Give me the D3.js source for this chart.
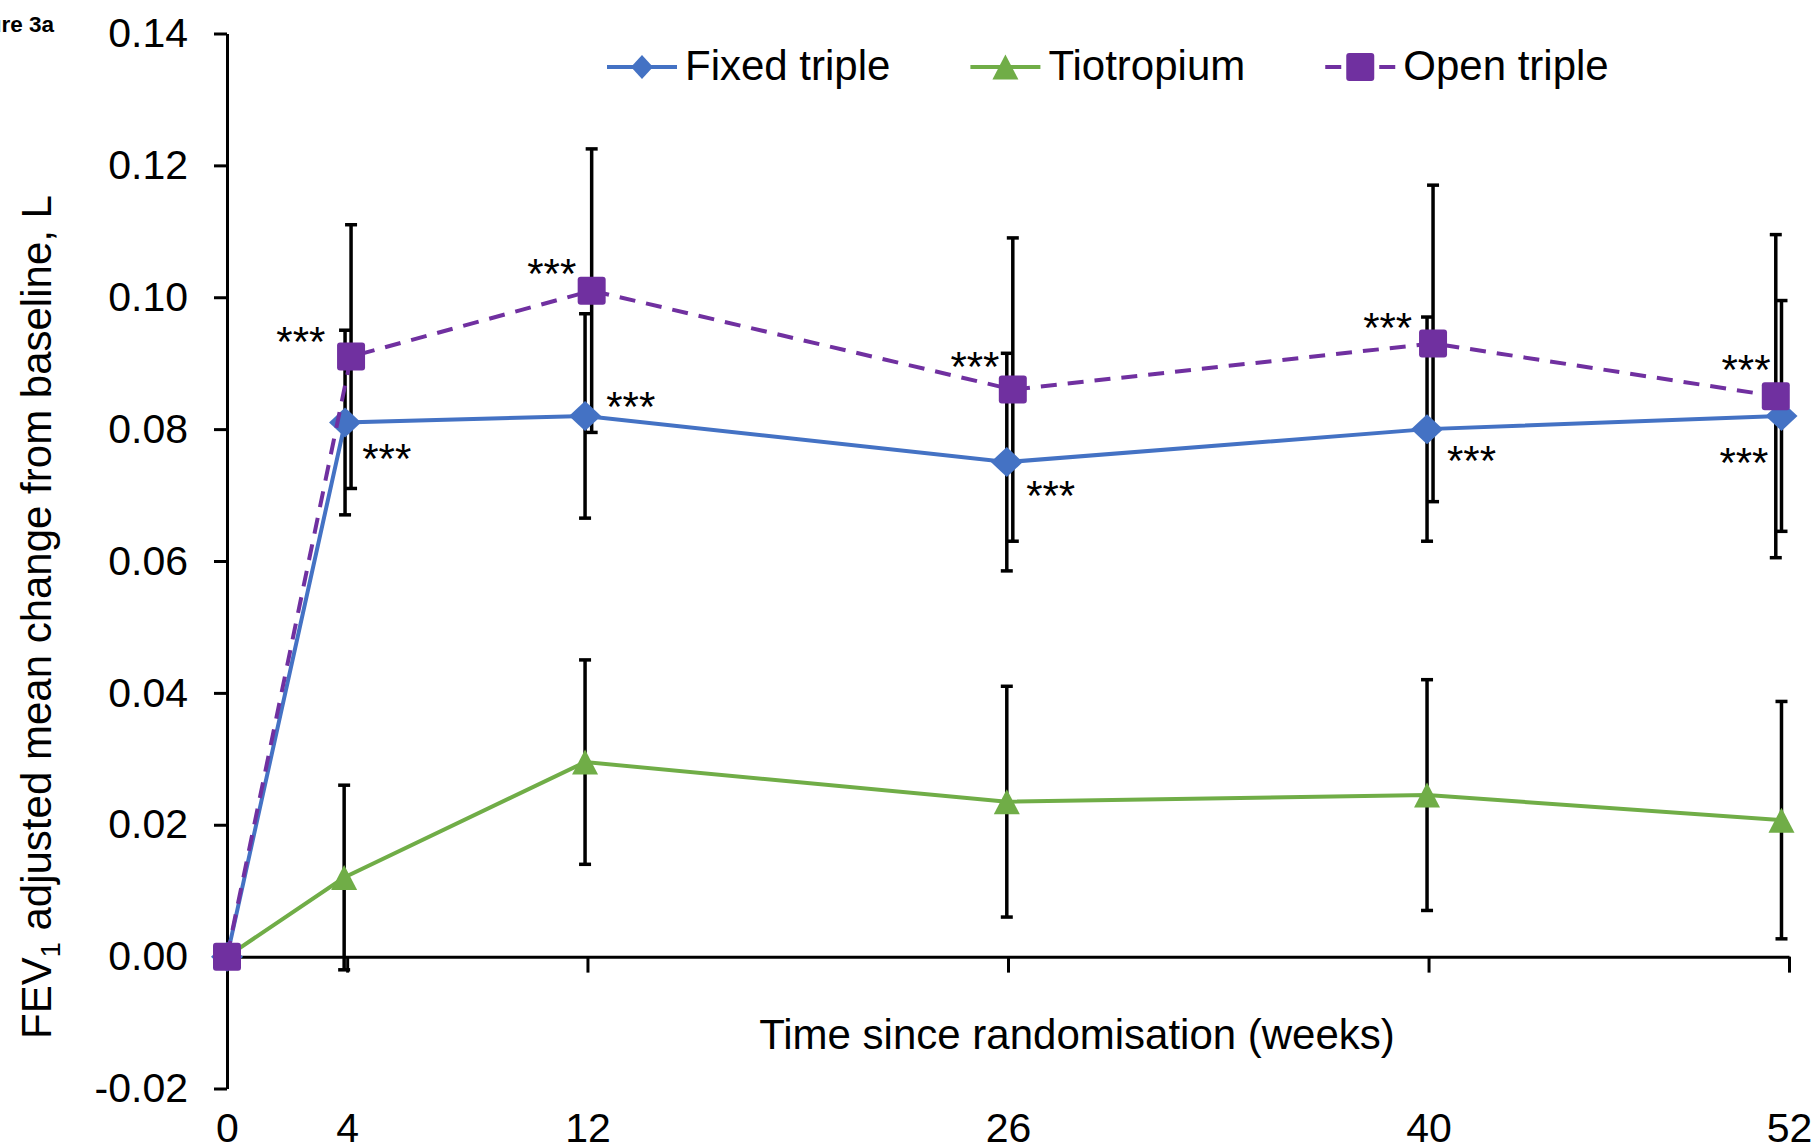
<!DOCTYPE html>
<html>
<head>
<meta charset="utf-8">
<script src="https://cdn.jsdelivr.net/npm/d3@7"></script>
<style>
  body { margin: 0; background: #fff; }
  svg { display: block; font-family: "Liberation Sans", Arial, sans-serif; }
</style>
</head>
<body>
<div id="chart"></div>
<script>
// tick labels
var weeks = [0, 4, 12, 26, 40, 52];
var yTicks = [-0.02, 0, 0.02, 0.04, 0.06, 0.08, 0.10, 0.12, 0.14];

// Fixed triple (week as plotted, mean change in L, error bar half width)
var fixedWeek = [0, 3.93, 11.92, 25.96, 39.95, 51.75];
var fixedMean = [0, 0.081, 0.082, 0.075, 0.080, 0.082];
var fixedErr  = [0, 0.014, 0.0155, 0.0165, 0.017, 0.0175];

// Tiotropium
var tioWeek = [0, 3.9, 11.92, 25.96, 39.95, 51.75];
var tioMean = [0, 0.012, 0.0295, 0.0235, 0.0245, 0.0207];
var tioErr  = [0, 0.014, 0.0155, 0.0175, 0.0175, 0.018];

// Open triple
var openWeek = [0, 4.13, 12.14, 26.16, 40.15, 51.56];
var openMean = [0, 0.091, 0.101, 0.086, 0.093, 0.085];
var openErr  = [0, 0.020, 0.0215, 0.023, 0.024, 0.0245];

// "***" labels, placed in week / litre units
var fixedSigWeek  = [5.32, 13.44, 27.42, 41.43, 50.5];
var fixedSigValue = [0.0770, 0.0849, 0.0714, 0.0767, 0.0763];
var openSigWeek   = [2.46, 10.81, 24.9, 38.64, 50.57];
var openSigValue  = [0.0947, 0.1050, 0.0909, 0.0968, 0.0905];

var svg, x, y, width, height;

function setup() {
  width = 1816;
  height = 1145;

  x = d3.scaleLinear().domain([0, 52]).range([227, 1789]);
  y = d3.scaleLinear().domain([-0.02, 0.14]).range([1088.5, 33.5]);

  svg = d3.select("#chart").append("svg")
    .attr("width", width)
    .attr("height", height);
}

// marker shapes, centred on 0,0
function marker(g, type, big) {
  if (type === "diamond") {
    var w = big ? 16 : 11, h = big ? 15 : 12;
    g.append("path").attr("d", "M0," + (-h) + "L" + w + ",0L0," + h + "L" + (-w) + ",0Z");
  } else if (type === "triangle") {
    g.append("path").attr("d", "M0,-12.5L13,12.5L-13,12.5Z");
  } else {
    g.append("rect").attr("x", -14).attr("y", -14).attr("width", 28).attr("height", 28).attr("rx", 3);
  }
}

function draw() {
  var series = [
    {name: "Fixed triple", week: fixedWeek, mean: fixedMean, err: fixedErr, color: "#4472C4", dash: null, shape: "diamond"},
    {name: "Tiotropium", week: tioWeek, mean: tioMean, err: tioErr, color: "#70AD47", dash: null, shape: "triangle"},
    {name: "Open triple", week: openWeek, mean: openMean, err: openErr, color: "#7030A0", dash: "16,11", shape: "square"}
  ];

  // "Figure 3a" label, cut off at the left edge
  svg.append("text")
    .attr("x", 54).attr("y", 32)
    .attr("text-anchor", "end")
    .style("font-size", "22.5px").style("font-weight", "bold")
    .text("Figure 3a");

  // y axis
  var yAxis = svg.append("g")
    .attr("transform", "translate(" + x(0) + ",0)")
    .call(d3.axisLeft(y).tickValues(yTicks)
      .tickFormat(function(d) { return d.toFixed(2); })
      .tickSize(13).tickPadding(26).tickSizeOuter(0));
  yAxis.attr("font-family", null).attr("font-size", null);
  yAxis.selectAll("path, line").attr("stroke", "#000").attr("stroke-width", 3);
  yAxis.selectAll("text").style("font-size", "41px").attr("fill", "#000");

  // x axis line at zero with ticks
  var xAxis = svg.append("g")
    .attr("transform", "translate(0," + y(0) + ")")
    .call(d3.axisBottom(x).tickValues(weeks).tickFormat("").tickSize(16).tickSizeOuter(0));
  xAxis.selectAll("path, line").attr("stroke", "#000").attr("stroke-width", 3);

  // x tick labels sit below the plot
  var xLabels = svg.append("g")
    .attr("transform", "translate(0," + y(-0.02) + ")")
    .call(d3.axisBottom(x).tickValues(weeks).tickSize(0).tickPadding(24));
  xLabels.attr("font-family", null).attr("font-size", null);
  xLabels.select(".domain").remove();
  xLabels.selectAll("text").style("font-size", "41px").attr("fill", "#000");

  // axis titles
  svg.append("text")
    .attr("x", 1077).attr("y", 1049)
    .attr("text-anchor", "middle")
    .style("font-size", "42px")
    .text("Time since randomisation (weeks)");

  var yTitle = svg.append("text")
    .attr("transform", "translate(51,617) rotate(-90)")
    .attr("text-anchor", "middle")
    .style("font-size", "42px");
  yTitle.append("tspan").text("FEV");
  yTitle.append("tspan").attr("dy", 9).style("font-size", "27px").text("1");
  yTitle.append("tspan").attr("dy", -9).text(" adjusted mean change from baseline, L");

  // error bars first
  series.forEach(function(s) {
    var pts = s.mean.map(function(m, i) { return {w: s.week[i], m: m, e: s.err[i]}; })
      .filter(function(p) { return p.e > 0; });
    var eb = svg.append("g").attr("stroke", "#000").attr("stroke-width", 3.5);
    eb.selectAll(".bar").data(pts).enter().append("line")
      .attr("x1", function(d) { return x(d.w); }).attr("x2", function(d) { return x(d.w); })
      .attr("y1", function(d) { return y(d.m - d.e); }).attr("y2", function(d) { return y(d.m + d.e); });
    eb.selectAll(".top").data(pts).enter().append("line")
      .attr("x1", function(d) { return x(d.w) - 6; }).attr("x2", function(d) { return x(d.w) + 6; })
      .attr("y1", function(d) { return y(d.m + d.e); }).attr("y2", function(d) { return y(d.m + d.e); });
    eb.selectAll(".bot").data(pts).enter().append("line")
      .attr("x1", function(d) { return x(d.w) - 6; }).attr("x2", function(d) { return x(d.w) + 6; })
      .attr("y1", function(d) { return y(d.m - d.e); }).attr("y2", function(d) { return y(d.m - d.e); });
  });

  // lines and markers
  var line = d3.line()
    .x(function(d) { return x(d[0]); })
    .y(function(d) { return y(d[1]); });

  series.forEach(function(s) {
    var pts = s.mean.map(function(m, i) { return [s.week[i], m]; });
    svg.append("path")
      .datum(pts)
      .attr("fill", "none")
      .attr("stroke", s.color)
      .attr("stroke-width", 4)
      .attr("stroke-dasharray", s.dash)
      .attr("d", line);

    pts.forEach(function(p) {
      var g = svg.append("g")
        .attr("transform", "translate(" + x(p[0]) + "," + y(p[1]) + ")")
        .attr("fill", s.color);
      marker(g, s.shape, true);
    });
  });

  // significance stars
  function stars(ws, vs) {
    ws.forEach(function(w, i) {
      svg.append("text")
        .attr("x", x(w)).attr("y", y(vs[i]))
        .attr("dy", "0.57em")
        .attr("text-anchor", "middle")
        .style("font-size", "42px")
        .text("***");
    });
  }
  stars(fixedSigWeek, fixedSigValue);
  stars(openSigWeek, openSigValue);

  // legend
  var lx = 607;
  series.forEach(function(s) {
    var g = svg.append("g").attr("transform", "translate(" + lx + ",67)");
    g.append("line")
      .attr("x1", 0).attr("x2", 70)
      .attr("stroke", s.color).attr("stroke-width", 4)
      .attr("stroke-dasharray", s.dash);
    var m = g.append("g").attr("transform", "translate(35,0)").attr("fill", s.color);
    marker(m, s.shape, false);
    var t = g.append("text")
      .attr("x", 78).attr("y", 13)
      .style("font-size", "42px")
      .text(s.name);
    lx += 78 + t.node().getComputedTextLength() + 80;
  });
}

setup();
draw();
</script>
</body>
</html>
